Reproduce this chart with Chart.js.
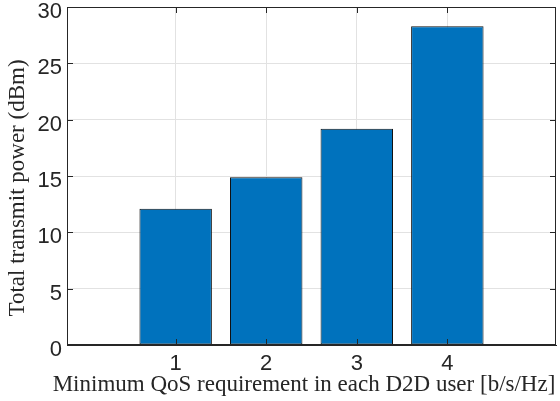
<!DOCTYPE html>
<html>
<head>
<meta charset="utf-8">
<script src="https://cdn.jsdelivr.net/npm/chart.js@4"></script>
<style>
  body { margin: 0; background: #fff; }
  canvas { display: block; }
</style>
</head>
<body>
<canvas id="barChart" width="560" height="401"></canvas>
<script>
// data
const qosLevels = [1, 2, 3, 4];
const totalPower = [12.1, 14.9, 19.2, 28.3];
const yTicks = [0, 5, 10, 15, 20, 25, 30];

const xTitle = 'Minimum QoS requirement in each D2D user [b/s/Hz]';
const yTitle = 'Total transmit power (dBm)';

const axisColor = '#262626';
const gridColor = '#e2e2e2';

// MATLAB style box with inward ticks + axis titles
const boxPlugin = {
    id: 'matlabBox',
    afterDraw(chart) {
        const ctx = chart.ctx;
        const a = chart.chartArea;
        const xs = chart.scales.x, ys = chart.scales.y;
        const L = Math.round(a.left), R = Math.round(a.right) - 1;
        const T = Math.round(a.top), B = Math.round(a.bottom) - 1;
        ctx.save();
        ctx.fillStyle = axisColor;
        // frame
        ctx.fillRect(L, T, R - L + 1, 1);
        ctx.fillRect(L, B, R - L + 1, 1);
        ctx.fillRect(L, T, 1, B - T + 1);
        ctx.fillRect(R, T, 1, B - T + 1);
        // inward ticks
        xs.ticks.forEach(t => {
            const px = Math.round(xs.getPixelForValue(t.value));
            ctx.fillRect(px, B - 5, 1, 5);
            ctx.fillRect(px, T + 1, 1, 5);
        });
        ys.ticks.forEach(t => {
            const py = Math.round(ys.getPixelForValue(t.value));
            ctx.fillRect(L + 1, py, 5, 1);
            ctx.fillRect(R - 5, py, 5, 1);
        });

        ctx.textAlign = 'center';

        // x axis title
        ctx.font = '23px "Liberation Serif", serif';
        ctx.textBaseline = 'alphabetic';
        ctx.fillText(xTitle, 304, 391);

        // y axis title
        ctx.translate(18, 188);
        ctx.rotate(-Math.PI / 2);
        ctx.font = '23px "Liberation Serif", serif';
        ctx.textBaseline = 'middle';
        ctx.fillText(yTitle, 0, 0);
        ctx.restore();
    }
};

const ctx = document.getElementById('barChart').getContext('2d');
const barChart = new Chart(ctx, {
    type: 'bar',
    data: {
        datasets: [{
            data: qosLevels.map((q, i) => ({ x: q, y: totalPower[i] })),
            backgroundColor: '#0072BD',
            borderColor: '#111111',
            borderWidth: 1,
            borderSkipped: false,
            barPercentage: 0.8,
            categoryPercentage: 1.0
        }]
    },
    options: {
        responsive: false,
        animation: false,
        layout: { padding: { top: 7, right: 4, left: 0, bottom: 0 } },
        plugins: {
            legend: { display: false },
            tooltip: { enabled: false }
        },
        scales: {
            x: {
                type: 'linear',
                min: -0.2,
                max: 5.2,
                offset: false,
                afterBuildTicks: (scale) => {
                    scale.ticks = qosLevels.map(v => ({ value: v }));
                },
                afterFit: (scale) => {
                    scale.height = 56;
                    scale.paddingLeft = 0;
                    scale.paddingRight = 0;
                },
                ticks: {
                    color: axisColor,
                    font: { family: '"Liberation Sans", Arial, sans-serif', size: 22 },
                    padding: 6,
                    maxRotation: 0
                },
                grid: { color: gridColor, drawTicks: false, offset: false },
                border: { color: axisColor }
            },
            y: {
                min: 0,
                max: 30,
                afterBuildTicks: (scale) => {
                    scale.ticks = yTicks.map(v => ({ value: v }));
                },
                afterFit: (scale) => {
                    scale.width = 67;
                    scale.paddingTop = 0;
                    scale.paddingBottom = 0;
                },
                ticks: {
                    color: axisColor,
                    font: { family: '"Liberation Sans", Arial, sans-serif', size: 22 },
                    padding: 5,
                    labelOffset: 5
                },
                grid: { color: gridColor, drawTicks: false },
                border: { color: axisColor }
            }
        }
    },
    plugins: [boxPlugin]
});
</script>
</body>
</html>
